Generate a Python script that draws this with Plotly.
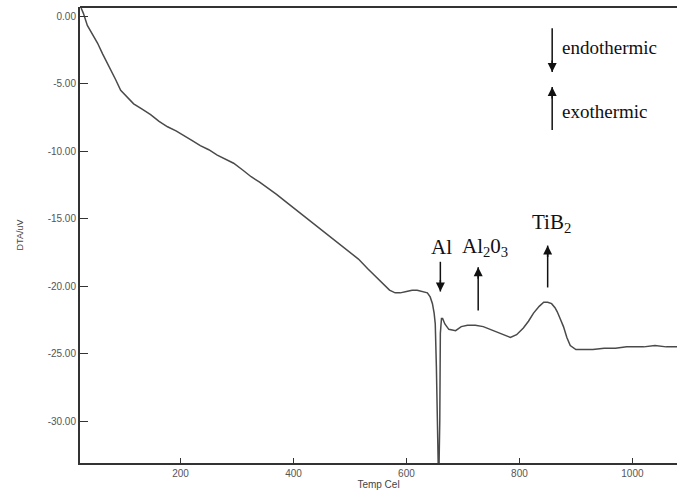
import plotly.graph_objects as go

# DTA curve
temp_c = [24, 28, 35, 44, 53, 62, 71, 78, 85, 94, 105, 117, 132, 147, 162, 177, 192, 205, 220, 235,
          250, 265, 280, 294, 310, 325, 340, 354, 370, 385, 400, 412, 425, 440, 455, 471, 485, 500,
          515, 531, 545, 559, 570, 580, 589, 600, 610, 619, 628, 637, 642, 646, 649, 651, 653,
          655, 657, 659, 660, 662, 664, 668, 675, 687, 697, 708, 722, 736, 748, 761, 772, 784,
          795, 807, 816, 825, 835, 843, 850, 857, 863, 867, 872, 878, 884, 890, 900, 913, 930,
          950, 970, 990, 1002, 1020, 1040, 1060, 1080]
dta_uv = [0.6, 0.2, -0.7, -1.3, -2.0, -2.8, -3.5, -4.1, -4.7, -5.5, -6.0, -6.5, -6.9, -7.3, -7.8, -8.2, -8.5, -8.8, -9.2, -9.6,
          -9.9, -10.3, -10.6, -10.9, -11.4, -11.9, -12.3, -12.7, -13.2, -13.7, -14.2, -14.6, -15.0, -15.5, -16.0, -16.5, -17.0, -17.5,
          -18.0, -18.7, -19.3, -19.9, -20.3, -20.5, -20.5, -20.4, -20.3, -20.3, -20.4, -20.5, -20.8, -21.3, -22.0, -22.8, -26.0,
          -35.0, -35.0, -30.0, -23.5, -22.4, -22.4, -22.8, -23.2, -23.3, -23.0, -22.9, -22.9, -23.0, -23.2, -23.4, -23.6, -23.8,
          -23.6, -23.1, -22.6, -22.0, -21.5, -21.2, -21.2, -21.3, -21.6, -21.9, -22.4, -23.0, -23.8, -24.4, -24.7, -24.7, -24.7,
          -24.6, -24.6, -24.5, -24.5, -24.5, -24.4, -24.5, -24.5]

x_ticks = [200, 400, 600, 800, 1000]
y_ticks = [0, -5, -10, -15, -20, -25, -30]
y_tick_text = ["0.00", "-5.00", "-10.00", "-15.00", "-20.00", "-25.00", "-30.00"]

x_title = "Temp Cel"
y_title = "DTA/uV"

fig = go.Figure()
fig.add_trace(go.Scatter(x=temp_c, y=dta_uv, mode="lines",
                         line=dict(color="#4a4a4a", width=1.5), showlegend=False))

serif = "Liberation Serif"
ann_font = dict(family=serif, size=21, color="#111111")

def arrow(x_pos, y_head, y_tail):
    # shaft drawn as a line shape, head drawn by a short annotation arrow
    fig.add_shape(type="line", xref="x", yref="y", x0=x_pos, x1=x_pos, y0=y_tail, y1=y_head,
                  line=dict(color="#111111", width=1.5))
    direction = -1 if y_tail > y_head else 1
    fig.add_annotation(x=x_pos, y=y_head, ax=0, ay=direction * 12, xref="x", yref="y",
                       text="", showarrow=True, arrowhead=2,
                       arrowsize=1.2, arrowwidth=1.5, arrowcolor="#111111",
                       font=dict(size=1), borderpad=0)

arrow(660, -20.4, -18.2)
arrow(727, -18.6, -21.8)
arrow(850, -17.0, -20.1)
arrow(858, -4.15, -0.9)
arrow(858, -5.26, -8.44)

fig.add_annotation(x=662, y=-17.1, text="Al", showarrow=False, font=ann_font)
fig.add_annotation(x=739, y=-17.1, text="Al<sub>2</sub>0<sub>3</sub>", showarrow=False, font=ann_font)
fig.add_annotation(x=857, y=-15.3, text="TiB<sub>2</sub>", showarrow=False, font=ann_font)
fig.add_annotation(x=872, y=-2.3, text="endothermic", showarrow=False, xanchor="left",
                   font=dict(family=serif, size=19, color="#111111"))
fig.add_annotation(x=872, y=-7.1, text="exothermic", showarrow=False, xanchor="left",
                   font=dict(family=serif, size=19, color="#111111"))

axis_font = dict(family="Liberation Sans", size=10, color="#555555")
fig.update_xaxes(range=[22, 1079], tickvals=x_ticks, ticks="inside", ticklen=5, tickcolor="#333333",
                 showline=True, linecolor="#333333", linewidth=2, mirror=False, showgrid=False,
                 zeroline=False, tickfont=axis_font,
                 title=dict(text=x_title, font=dict(family="Liberation Sans", size=10, color="#444444"), standoff=0))
fig.update_yaxes(range=[-33.1, 0.67], tickvals=y_ticks, ticktext=y_tick_text, ticks="inside", ticklen=8,
                 tickcolor="#333333", showline=True, linecolor="#333333", linewidth=2, showgrid=False,
                 zeroline=False, tickfont=axis_font,
                 title=dict(text=y_title, font=dict(family="Liberation Sans", size=9, color="#444444"), standoff=22))

# top border line
fig.add_shape(type="line", xref="paper", yref="paper", x0=0, x1=1, y0=1, y1=1,
              line=dict(color="#333333", width=2), layer="above")

fig.update_layout(width=677, height=498, margin=dict(l=80, r=0, t=7, b=35),
                  plot_bgcolor="white", paper_bgcolor="white")

fig.write_html("out.html", config={"displayModeBar": False},
               post_script="document.body.style.margin='0';document.body.style.overflow='hidden';")
